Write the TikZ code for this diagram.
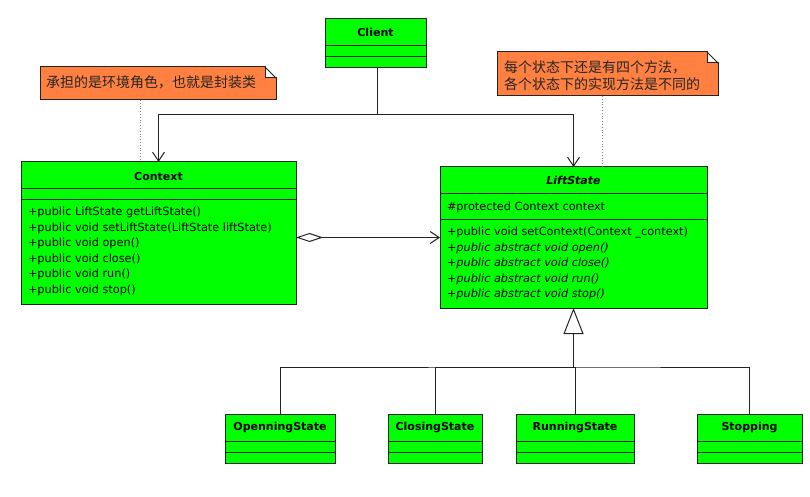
\documentclass[tikz,border=0pt]{standalone}
\usepackage{fontspec}
\usetikzlibrary{arrows.meta}
\usetikzlibrary{calc}
\newfontfamily\umlfont{DejaVu Sans}
\newfontfamily\cjkfont{Noto Sans CJK SC}
\definecolor{umlgreen}{RGB}{0,255,0}
\definecolor{noteorange}{RGB}{255,128,64}
\definecolor{umlborder}{RGB}{35,35,35}

\begin{document}
\begin{tikzpicture}[x=1pt,y=-1pt,
	every node/.style={inner sep=0pt,outer sep=0pt},
	cls/.style={draw=umlborder,fill=umlgreen,line width=1pt,anchor=north west},
	sep/.style={draw=umlborder,line width=0.9pt},
	clsname/.style={font=\umlfont\bfseries\fontsize{11}{13}\selectfont},
	members/.style={font=\umlfont\fontsize{11.3}{15.6}\selectfont,align=left},
	notespace/.style={anchor=north west},
	notetext/.style={font=\cjkfont\fontsize{14}{17}\selectfont,align=left,text=black!85},
	notebox/.style={draw=umlborder,fill=noteorange,line width=1pt},
	noteline/.style={draw=gray,dotted,line width=0.8pt},
	assoc/.style={draw=umlborder,line width=1pt,-{Straight Barb[length=9pt,width=12pt]}},
	aggr/.style={draw=umlborder,line width=1pt,{Diamond[fill=white,length=27pt,width=9pt]}-{Straight Barb[length=9pt,width=12pt]}},
	gen/.style={draw=umlborder,line width=1pt,-{Triangle[fill=white,length=26pt,width=20pt]}}]

	\useasboundingbox (0,0) rectangle (810,497);

	% Client
	\node[cls,minimum width=101pt,minimum height=49pt] (client) at (325,19) {};
	\node[clsname] (clientname) at (375.5,32) {Client};
	\draw[sep] (325,45) -- (426,45);
	\draw[sep] (325,56) -- (426,56);

	% Context
	\node[cls,minimum width=275pt,minimum height=142pt] (ctx) at (21,162) {};
	\node[clsname] (ctxname) at (158.5,176) {Context};
	\draw[sep] (21,188) -- (296,188);
	\draw[sep] (21,199) -- (296,199);
	\node[members,anchor=north west] (ctxops) at (28,207) {%
		+public LiftState getLiftState()\\
		+public void setLiftState(LiftState liftState)\\
		+public void open()\\
		+public void close()\\
		+public void run()\\
		+public void stop()};

	% LiftState
	\node[cls,minimum width=267pt,minimum height=141pt] (ls) at (440,167) {};
	\node[clsname,font=\umlfont\bfseries\itshape\fontsize{11}{13}\selectfont] (lsname) at (573.5,180) {LiftState};
	\draw[sep] (440,193) -- (707,193);
	\draw[sep] (440,219) -- (707,219);
	\node[members,anchor=base west] (lsattr) at (447,210) {\#protected Context context};
	\node[members,anchor=north west] (lsops) at (447,227) {%
		+public void setContext(Context \_context)\\
		\itshape +public abstract void open()\\
		\itshape +public abstract void close()\\
		\itshape +public abstract void run()\\
		\itshape +public abstract void stop()};

	% concrete states
	\node[cls,minimum width=110pt,minimum height=49pt] (opening) at (225,414) {};
	\node[clsname] (openingname) at (280,428) {OpenningState};
	\draw[sep] (225,441) -- (335,441);
	\draw[sep] (225,452) -- (335,452);

	\node[cls,minimum width=94pt,minimum height=49pt] (closing) at (388,414) {};
	\node[clsname] (closingname) at (435,428) {ClosingState};
	\draw[sep] (388,441) -- (482,441);
	\draw[sep] (388,452) -- (482,452);

	\node[cls,minimum width=118pt,minimum height=49pt] (running) at (516,414) {};
	\node[clsname] (runningname) at (575,428) {RunningState};
	\draw[sep] (516,441) -- (634,441);
	\draw[sep] (516,452) -- (634,452);

	\node[cls,minimum width=105pt,minimum height=49pt] (stopping) at (697,414) {};
	\node[clsname] (stoppingname) at (749.5,428) {Stopping};
	\draw[sep] (697,441) -- (802,441);
	\draw[sep] (697,452) -- (802,452);

	% notes
	\node[notespace,minimum width=236pt,minimum height=33pt] (note1) at (40,67) {};
	\draw[notebox] (note1.north west) -- ($(note1.north east)+(-11,0)$)
		-- ($(note1.north east)+(-11,11)$) -- ($(note1.north east)+(0,11)$)
		-- (note1.south east) -- (note1.south west) -- cycle;
	\draw[notebox] ($(note1.north east)+(-11,0)$) -- ($(note1.north east)+(0,11)$);
	\node[notetext,anchor=base west] (note1txt) at (46,88) {承担的是环境角色，也就是封装类};

	\node[notespace,minimum width=221pt,minimum height=44pt] (note2) at (497,52) {};
	\draw[notebox] (note2.north west) -- ($(note2.north east)+(-11,0)$)
		-- ($(note2.north east)+(-11,11)$) -- ($(note2.north east)+(0,11)$)
		-- (note2.south east) -- (note2.south west) -- cycle;
	\draw[notebox] ($(note2.north east)+(-11,0)$) -- ($(note2.north east)+(0,11)$);
	\node[notetext,anchor=north west] (note2txt) at (504,61) {每个状态下还是有四个方法，\\各个状态下的实现方法是不同的};

	\draw[noteline] ($(note1.south west)+(100,0)$) coordinate (n1foot) -- (n1foot |- ctx.north);
	\draw[noteline] ($(note2.south west)+(105,0)$) coordinate (n2foot) -- (n2foot |- ls.north);

	% connectors
	\coordinate (split) at (377,115);
	\draw[assoc] (client.south -| split) -- (split) -| (ctx.north);
	\draw[assoc] (split) -| (ls.north);

	\draw[aggr] (ctx.east |- ls.west) -- (ls.west);

	\coordinate (bus) at (573.5,367);
	\draw[gen] (bus) -- (ls.south);
	\draw[draw=umlborder,line width=1pt] (opening.north) |- (bus) -| (stopping.north);
	\draw[draw=umlborder,line width=1pt] (closing.north) |- (bus);
	\draw[draw=umlborder,line width=1pt] (running.north) |- (bus);
\end{tikzpicture}
\end{document}
